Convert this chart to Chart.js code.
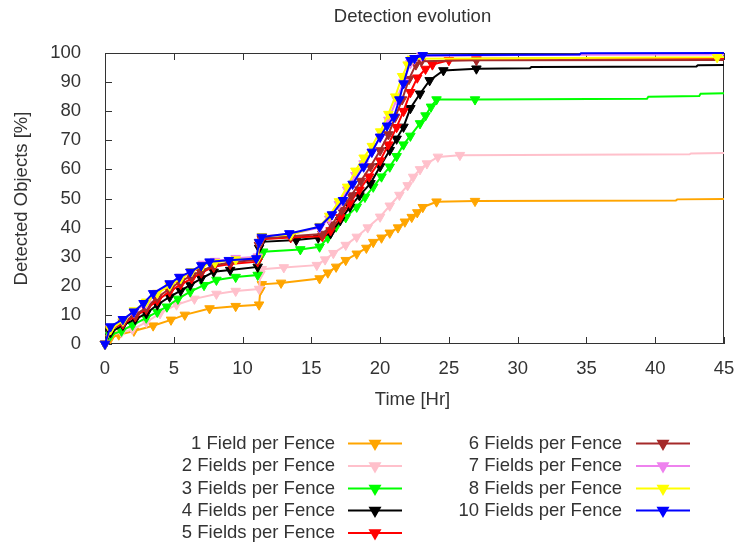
<!DOCTYPE html>
<html><head><meta charset="utf-8">
<script src="https://cdn.jsdelivr.net/npm/chart.js@4.4.1/dist/chart.umd.min.js"></script>
<style>html,body{margin:0;padding:0;background:#fff}canvas{display:block}</style>
</head><body>
<canvas id="c" width="742" height="542"></canvas>
<script>
// ---- data ----
const chartTitle = 'Detection evolution';
const xTitle = 'Time [Hr]';
const yTitle = 'Detected Objects [%]';
const xTicks = [0,5,10,15,20,25,30,35,40,45];
const yTicks = [0,10,20,30,40,50,60,70,80,90,100];
const seriesNames = ['1 Field per Fence','2 Fields per Fence','3 Fields per Fence','4 Fields per Fence','5 Fields per Fence','6 Fields per Fence','7 Fields per Fence','8 Fields per Fence','10 Fields per Fence'];
const seriesColors = ['#FFA500','#FFC0CB','#00FF00','#000000','#FF0000','#A52A2A','#EE82EE','#FFFF00','#0000FF'];

// [time (hr), detected (%)]
const s1 = [[0,0],[0.4,2],[1,3.2],[2.1,4.5],[3.5,6.3],[4.8,8.3],[5.8,10],[7.6,12.2],[9.5,13],[11.2,13.5],[11.3,18.5],[11.4,20.5],[12.8,21],[15.6,22.5],[16.2,24.5],[16.8,26.5],[17.5,28.8],[18.3,31],[19,33],[19.5,35],[20.1,36.5],[20.7,38.2],[21.3,40],[21.8,42],[22.3,43.6],[22.7,45.2],[23.1,47],[24.1,48.9],[26.9,49.1],[41.5,49.3],[41.6,49.7],[45,49.8]];
const s2 = [[0,0],[0.4,3],[1.2,4],[2,5],[3,7.5],[4,10.5],[5.2,13.5],[6.5,15.5],[8.1,17.2],[9.5,18.2],[11.2,18.9],[11.3,24],[11.4,25.7],[13,26.3],[15.4,27.1],[16,29],[16.6,31.2],[17.5,34],[18.3,36.8],[19.1,40],[20,43.7],[20.7,47.5],[21.4,51.2],[22,54.5],[22.4,57.4],[22.9,60],[23.4,62],[24.2,64.3],[25.8,64.9],[42.5,65.2],[42.6,65.5],[45,65.6]];
const s3 = [[0,0],[0.4,3],[1.2,4.5],[2,6.5],[3,9],[3.8,11],[4.5,12.8],[5.3,15.5],[6.2,18],[7.2,20.2],[8.1,22],[9.5,23],[11.1,23.7],[11.3,30],[11.5,31.7],[14.2,32.5],[15.6,33.4],[16.2,36.5],[16.8,40.3],[17.5,43.5],[18.3,47.1],[18.9,50.5],[19.5,54],[20.1,57.5],[20.7,60.9],[21.2,64.5],[21.7,68.5],[22.2,71.5],[22.9,75.8],[23.3,78.5],[23.7,81.5],[24.1,84],[26.9,84],[39.4,84.3],[39.5,85],[43.2,85.2],[43.3,86],[45,86.2]];
const s4 = [[0,0],[0.4,4],[1.3,6.5],[2.2,8.5],[3,10.5],[3.8,13.5],[4.7,16.2],[5.5,18.3],[6.2,20.3],[7,22.5],[7.9,24.8],[9.1,25.4],[11.1,26.5],[11.2,33],[11.4,35.1],[13.9,35.7],[15.5,36.5],[16.4,38],[17.1,42.5],[17.8,47.1],[18.5,51],[19.3,55.2],[20,61],[20.7,66.6],[21.2,70.5],[21.7,74.6],[22.2,81],[22.9,86],[23.6,90.6],[24.6,94],[27,94.6],[30.9,94.8],[31,95.2],[43,95.4],[43.1,95.8],[45,95.9]];
const s5 = [[0,0],[0.4,5],[1.3,7],[2.2,9.5],[3,12],[3.8,15],[4.7,18],[5.5,20.5],[6.3,22.5],[7,24.5],[7.9,26.5],[9.1,27.5],[11.1,28.3],[11.2,34],[11.4,36],[13.5,36.6],[15.8,37],[16.4,39],[17.1,43.5],[17.8,48.5],[18.5,53],[19.2,57.5],[20,63],[20.6,68.5],[21.2,74.5],[21.7,80],[22.2,86.5],[22.7,91.5],[23.3,94.5],[23.8,96],[25,97.5],[27,98],[45,98.2]];
const s6 = [[0,0],[0.4,5],[1.3,7.5],[2.2,10],[3,12.5],[3.8,16],[4.7,19],[5.5,21.5],[6.3,23.5],[7,25],[7.9,27],[9.1,28],[11.1,29],[11.2,34],[11.4,36.3],[13.5,37],[15.8,37.8],[16.5,41],[17.2,46],[17.9,51],[18.6,56],[19.3,61],[20,66.5],[20.6,72],[21.1,78],[21.6,84],[22.1,91],[22.6,96],[23,97.2],[27,97.5],[45,97.6]];
const s7 = [[0,0],[0.4,5.5],[1.3,8],[2.1,11],[3,14],[3.8,17.5],[4.7,20.5],[5.5,23],[6.3,25],[7.1,27.5],[8,28.5],[9.5,29.5],[11.1,30],[11.2,35],[11.4,37],[13.5,37.7],[15.6,40],[16.3,43],[17,48],[17.6,53],[18.2,58],[18.8,62],[19.4,66],[20,71],[20.6,77],[21.2,84],[21.7,90],[22.2,96.5],[22.5,98],[23,99],[30,99.3],[45,99.5]];
const s8 = [[0,0],[0.4,5],[1.3,8],[2.1,11.5],[3,14.5],[3.8,17.5],[4.7,20],[5.5,22.5],[6.3,25],[7.1,27],[8,28],[9.5,29],[11.1,29.5],[11.2,35],[11.4,37],[13.5,37.5],[15.6,40.5],[16.3,44],[17,49],[17.6,54],[18.2,59.5],[18.8,64],[19.4,68],[20,73],[20.6,79],[21.1,85],[21.6,92],[22,96],[22.3,98],[44.5,98.5],[45,98.6]];
const s10 = [[0,0],[0.4,6],[1.3,8.5],[2.1,11.1],[2.8,14],[3.5,17.4],[4.7,20.8],[5.4,23],[6.2,24.8],[7,27],[7.6,28.3],[9,28.8],[11,29.4],[11.2,35],[11.4,36.8],[13.4,38],[15.6,40.3],[16.5,44.5],[17.3,49.4],[18,55],[18.8,60.9],[19.4,66],[20,71.2],[20.5,75],[21,78],[21.4,84],[21.7,89.5],[22.2,97.5],[22.5,98.2],[23.1,99.2],[34.5,99.5],[34.6,99.9],[45,100]];
const seriesData = [s1,s2,s3,s4,s5,s6,s7,s8,s10];
// markers are drawn up to this time, plus these extra marker times
const markerUntil = 28;
const extraMarkerTimes = [[],[],[],[],[],[],[],[44.5],[]];

// ---- chart ----
const FONT = '"Liberation Sans", Arial, Helvetica, sans-serif';
const TXT = '#333';
const FS = 18.5;
const MR = 5.5;

const datasets = seriesData.map((pts, i) => ({
  label: seriesNames[i],
  data: pts.map(([x, y]) => ({x, y})),
  borderColor: seriesColors[i],
  backgroundColor: seriesColors[i],
  pointBackgroundColor: seriesColors[i],
  pointBorderColor: seriesColors[i],
  borderWidth: 2,
  pointStyle: 'triangle',
  rotation: 180,
  pointBorderWidth: 1,
  pointRadius: ctx => (ctx.raw && (ctx.raw.x < markerUntil || extraMarkerTimes[i].includes(ctx.raw.x))) ? MR : 0,
  tension: 0,
  clip: false,
  order: 10 - i
}));

const decor = {
  id: 'decor',
  beforeDatasetsDraw(chart) {
    const {ctx, chartArea: a, scales: {x, y}} = chart;
    ctx.save();
    ctx.strokeStyle = '#333';
    ctx.lineWidth = 1;
    ctx.strokeRect(a.left + 0.5, a.top + 0.5, a.right - a.left - 1, a.bottom - a.top - 1);
    ctx.beginPath();
    const tl = 7;
    xTicks.forEach(v => {
      const px = Math.round(x.getPixelForValue(v)) + 0.5;
      ctx.moveTo(px, a.bottom); ctx.lineTo(px, a.bottom - tl);
      ctx.moveTo(px, a.top); ctx.lineTo(px, a.top + tl);
    });
    yTicks.forEach(v => {
      const py = Math.round(y.getPixelForValue(v)) + 0.5;
      ctx.moveTo(a.left, py); ctx.lineTo(a.left + tl, py);
    });
    ctx.stroke();
    ctx.restore();
  },
  afterDraw(chart) {
    const {ctx, chartArea: a} = chart;
    ctx.save();
    ctx.fillStyle = TXT;
    ctx.font = FS + 'px ' + FONT;
    ctx.textBaseline = 'middle';
    ctx.textAlign = 'center';
    const cx = (a.left + a.right) / 2;
    ctx.fillText(chartTitle, cx - 2, 17);
    ctx.fillText(xTitle, cx - 2, 400);
    ctx.save();
    ctx.translate(22, (a.top + a.bottom) / 2);
    ctx.rotate(-Math.PI / 2);
    ctx.fillText(yTitle, 0, 0);
    ctx.restore();
    // legend
    const cols = [{textRight: 335, l0: 348, l1: 402}, {textRight: 622, l0: 636, l1: 690}];
    const rowY = [443.5, 466, 488.5, 510.5, 533];
    seriesNames.forEach((name, i) => {
      const c = cols[i < 5 ? 0 : 1];
      const yy = rowY[i < 5 ? i : i - 5];
      ctx.fillStyle = TXT;
      ctx.textAlign = 'right';
      ctx.fillText(name, c.textRight, yy);
      ctx.strokeStyle = seriesColors[i];
      ctx.lineWidth = 2;
      ctx.beginPath(); ctx.moveTo(c.l0, yy); ctx.lineTo(c.l1, yy); ctx.stroke();
      ctx.fillStyle = seriesColors[i];
      Chart.helpers.drawPoint(ctx, {pointStyle: 'triangle', rotation: 180, radius: MR, borderWidth: 1}, (c.l0 + c.l1) / 2, yy);
      ctx.fill();
    });
    ctx.restore();
  }
};

new Chart(document.getElementById('c'), {
  type: 'line',
  data: {datasets},
  options: {
    responsive: false, animation: false, devicePixelRatio: 1,
    layout: {padding: {top: 53, right: 18, left: 0, bottom: 0}},
    plugins: {legend: {display: false}, title: {display: false}, tooltip: {enabled: false}},
    scales: {
      x: {type: 'linear', min: 0, max: 45,
          grid: {display: false}, border: {display: false},
          afterBuildTicks: s => { s.ticks = xTicks.map(v => ({value: v})); },
          afterFit: s => { s.height = 198; },
          ticks: {padding: 6, color: TXT, font: {family: FONT, size: FS}, maxRotation: 0, autoSkip: false}},
      y: {type: 'linear', min: 0, max: 100,
          grid: {display: false}, border: {display: false},
          afterBuildTicks: s => { s.ticks = yTicks.map(v => ({value: v})); },
          afterFit: s => { s.width = 105; },
          ticks: {padding: 16, color: TXT, font: {family: FONT, size: FS}, autoSkip: false}}
    }
  },
  plugins: [decor]
});
</script>
</body></html>
